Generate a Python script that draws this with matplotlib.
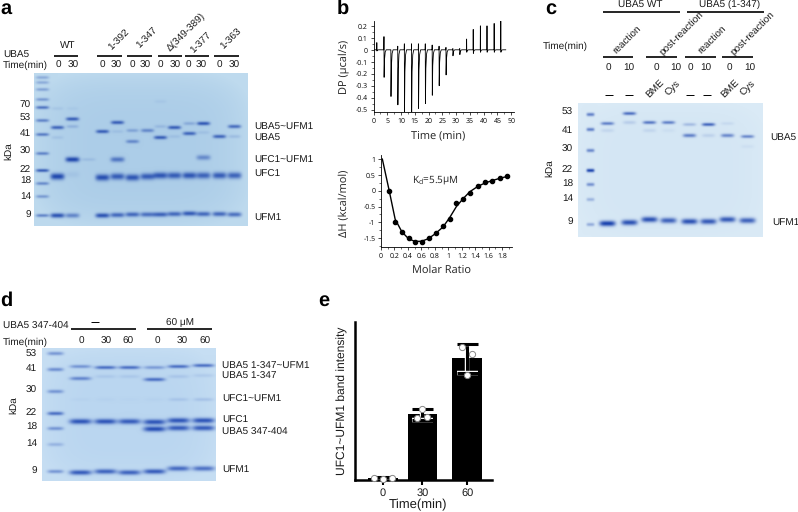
import numpy as np
import matplotlib
matplotlib.use("Agg")
from matplotlib import pyplot as plt
import matplotlib.patheffects as pe

W, H = 798, 512
plt.rcParams['font.family'] = ['Liberation Sans', 'DejaVu Sans']
plt.rcParams['mathtext.default'] = 'regular'
plt.rcParams['text.hinting'] = 'none'
plt.rcParams['text.hinting_factor'] = 1
SERIF_B = ['Open Sans', 'DejaVu Sans']  # panel b comes from the ITC software

a_lanes = [57, 72, 102, 117, 132, 147, 160, 174, 189, 203, 219, 234]
a_times = ['0', '30'] * 6
a_marker_rows = [77, 82, 89, 99, 107, 120, 134, 153, 170, 183, 196, 215]
a_marker_amts = [.3, .3, .35, .4, .65, .55, .6, .55, .8, .5, .4, .55]
a_ufm1_rows = [215, 215, 215, 214.5, 214, 214, 214, 213.5, 213, 213.5, 213.5, 214]
a_ufm1_amts = [.9, .55, .9, .75, .75, .7, .8, .75, .85, .75, .75, .7]
a_ufc1_rows = [176, 174, 177, 176, 177, 176, 175, 175, 175, 175, 175, 175]
a_ufc1_amts = [1, .08, .95, .85, .9, .85, .9, .85, .9, .8, .85, .8]
a_conj_lane = [1, 3, 9]
a_conj_rows = [159, 159, 157]
a_conj_amts = [1, .65, .5]
a_uba5_lane = [0, 1, 2, 3, 4, 5, 6, 7, 8, 9, 10, 11]
a_uba5_rows = [127, 118.5, 131, 122, 141, 130, 137, 127, 133, 123, 136, 126]
a_uba5_amts = [.75, .8, .8, .8, .5, .5, .8, .8, .75, .85, .75, .7]
a_faint_lane = [0, 1, 3, 4, 6, 7, 8, 9, 11, 0, 1, 6]
a_faint_rows = [137, 126, 131, 130, 126, 136, 123, 132, 136, 108, 108, 101]
a_faint_amts = [.1, .2, .1, .3, .15, .1, .25, .1, .15, .08, .05, .06]
a_mw = ['70', '53', '41', '30', '22', '18', '14', '9']
a_mw_y = [105, 118, 133, 151, 169, 181, 196, 215]

# ---- gel c
c_lanes = [607, 629, 649, 668, 689, 708, 727, 747]
c_times = ['0', '10', '0', '10', '0', '10', '0', '10']
c_time_x = [608, 629, 656, 676, 690, 706, 729, 750]
c_marker_rows = [114, 129, 150, 170, 184, 199, 224]
c_marker_amts = [.6, .6, .55, .95, .5, .3, .35]
c_ufm1_rows = [223, 222, 219, 220, 221, 221, 219, 220]
c_ufm1_amts = [1, .9, .9, .8, .9, .85, .85, .8]
c_top_rows = [123, 113, 122, 122, 124, 124, 123, 136]
c_top_amts = [.6, .7, .65, .6, .25, .75, .08, .55]
c_low_rows = [130, 122, 130, 130, 135, 135, 135, 146]
c_low_amts = [.1, .15, .1, .05, .6, .12, .55, .05]
c_mw = ['53', '41', '30', '22', '18', '14', '9']
c_mw_y = [112, 130, 149, 169, 184, 198, 222]

# ---- gel d
d_lanes = [80, 105, 129, 154, 178, 203]
d_times = ['0', '30', '60', '0', '30', '60']
d_time_x = [81, 106, 128, 157, 182, 205]
d_marker_rows = [353, 369, 391, 413, 428, 444, 471]
d_marker_amts = [.45, .5, .45, .7, .45, .25, .45]
d_charged_rows = [366, 367, 367, 367, 366, 365]
d_charged_amts = [.45, .7, .7, .4, .7, .7]
d_free_rows = [378, 376, 376, 379, 376, 375]
d_free_amts = [.55, .1, .1, .7, .12, .1]
d_conj_rows = [399, 399, 399, 399, 399, 399]
d_conj_amts = [.03, .03, .02, .03, .12, .15]
d_ufc1_rows = [421, 421, 421, 421.5, 420, 420]
d_ufc1_amts = [.9, .9, .85, .9, .9, .9]
d_pep_rows = [428, 428, 428, 428.5, 427.5, 427.5]
d_pep_amts = [0, 0, 0, .95, .85, .85]
d_ufm1_rows = [472, 471, 472, 471, 468, 468]
d_ufm1_amts = [.85, .8, .8, .85, .75, .7]
d_mw = ['53', '41', '30', '22', '18', '14', '9']
d_mw_y = [354, 368, 390, 412, 427, 443, 471]

# ---- panel b, raw ITC trace
itc_t = [1.2, 3.8, 6.3, 8.8, 11.2, 13.8, 16.3, 18.8, 21.3, 23.8, 26.3, 28.8, 31.3,
         33.8, 36.2, 38.8, 41.2, 43.8, 46.2]
itc_up = [.06, .11, .0, .03, .05, .05, .05, .05, .04, .03, .02, .01, .01,
          .09, .17, .20, .20, .22, .24]
itc_down = [-.01, -.23, -.39, -.46, -.52, -.52, -.49, -.45, -.38, -.30, -.21, -.05, -.04,
            -.02, -.03, -.02, -.02, -.02, -.02]
# integrated heats and fit
ratio = [.12, .21, .31, .41, .5, .61, .71, .81, .92, 1.02, 1.12, 1.22, 1.32, 1.44, 1.54, 1.65, 1.76, 1.87]
dh = [-.02, -.98, -1.3, -1.5, -1.63, -1.62, -1.5, -1.35, -1.1, -.88, -.38, -.27, -.08, .14, .27, .31, .4, .48]
fit_x = [.02, .12, .21, .31, .41, .5, .6, .7, .8, .92, 1.02, 1.12, 1.22, 1.32, 1.44, 1.54, 1.65, 1.76, 1.87]
fit_y = [1.0, .02, -.9, -1.3, -1.52, -1.6, -1.6, -1.52, -1.37, -1.15, -.85, -.5, -.25, -.03, .14, .24, .32, .39, .45]

# ---- panel e
e_labels = ['0', '30', '60']
e_pos = [0, 1, 2.137]
e_mean = [1, 41.8, 76.9]
e_low = [0, 38, 67.9]
e_high = [2, 44.7, 86.3]
e_pts_0 = [1.1, .6, 1.1]
e_pts_30 = [39, 45, 39.7]
e_pts_60 = [84, 80, 66.6]
e_offs_0 = [-.24, 0, .24]
e_offs_30 = [-.125, 0, .125]
e_offs_60 = [-.125, .125, 0]

fig = plt.figure(figsize=(W / 100, H / 100), dpi=100)
ax0 = fig.add_axes([0, 0, 1, 1])
ax0.set_axis_off()


def px_axes(l, t, r, b):
    return fig.add_axes([l / W, 1 - b / H, (r - l) / W, (b - t) / H])


def bands(stain, box, xs, rows, amts, hw, hh):
    l, t, r, b = box
    yy, xx = np.mgrid[t:b, l:r]
    for x, y, a in zip(xs, rows, amts):
        stain += a * np.exp(-((xx - x) / hw) ** 4) * np.exp(-((yy - y) / hh) ** 2)


def show_gel(stain, box, edge, centre, dark):
    l, t, r, b = box
    yy, xx = np.mgrid[t:b, l:r]
    # background is a bit lighter near the edges
    u = (xx - l) / (r - l) * 2 - 1
    v = (yy - t) / (b - t) * 2 - 1
    m = np.clip(1 - (u ** 4 + v ** 4) / 1.2, 0, 1)[..., None]
    bg = np.array(edge) * (1 - m) + np.array(centre) * m
    s = np.clip(stain, 0, 1)[..., None]
    img = (bg * (1 - s) + np.array(dark) * s) / 255
    ax0.imshow(img, extent=(l, r, b, t), aspect='auto', interpolation='bilinear', zorder=1)


# gel a
box = (34, 73, 248, 226)
st = np.zeros((box[3] - box[1], box[2] - box[0]))
ax = np.array(a_lanes)
bands(st, box, [42] * len(a_marker_rows), a_marker_rows, a_marker_amts, 6.5, 1.7)
bands(st, box, ax, a_ufm1_rows, a_ufm1_amts, 7, 2.4)
bands(st, box, ax, a_ufc1_rows, a_ufc1_amts, 7, 3.3)
bands(st, box, ax[a_conj_lane], a_conj_rows, a_conj_amts, 7, 2.6)
bands(st, box, ax[a_uba5_lane], a_uba5_rows, a_uba5_amts, 6.5, 1.9)
bands(st, box, ax[a_faint_lane], a_faint_rows, a_faint_amts, 6, 1.8)
bands(st, box, [88], [159], [.12], 7, 1.7)
show_gel(st, box, (190, 218, 238), (172, 205, 232), (35, 75, 175))

# gel c
box = (578, 103, 763, 237)
st = np.zeros((box[3] - box[1], box[2] - box[0]))
cx = np.array(c_lanes)
bands(st, box, [590] * len(c_marker_rows), c_marker_rows, c_marker_amts, 4, 1.8)
bands(st, box, cx, c_ufm1_rows, c_ufm1_amts, 8, 2.8)
bands(st, box, cx, c_top_rows, c_top_amts, 6.5, 1.7)
bands(st, box, cx, c_low_rows, c_low_amts, 6.5, 1.9)
show_gel(st, box, (218, 234, 246), (212, 230, 244), (30, 70, 175))

# gel d
box = (42, 348, 216, 481)
st = np.zeros((box[3] - box[1], box[2] - box[0]))
dx = np.array(d_lanes)
bands(st, box, [55] * len(d_marker_rows), d_marker_rows, d_marker_amts, 8, 1.9)
bands(st, box, dx, d_charged_rows, d_charged_amts, 10.5, 1.8)
bands(st, box, dx, d_free_rows, d_free_amts, 10.5, 1.9)
bands(st, box, dx, d_conj_rows, d_conj_amts, 10, 1.8)
bands(st, box, dx, d_ufc1_rows, d_ufc1_amts, 11, 2.7)
bands(st, box, dx, d_pep_rows, d_pep_amts, 11, 2.7)
bands(st, box, dx, d_ufm1_rows, d_ufm1_amts, 11, 2.5)
show_gel(st, box, (198, 222, 243), (186, 214, 240), (35, 75, 180))

ax0.set_xlim(0, W)
ax0.set_ylim(H, 0)


def txt(x, y, s, size=7.2, ha='left', rot=0, **kw):
    ax0.text(x, y, s, fontsize=size, ha=ha, va='center', rotation=rot,
             rotation_mode='anchor' if rot == 45 else 'default', color='#1a1a1a', **kw)


def rule(x0, x1, y, lw=1.2):
    ax0.plot([x0, x1], [y, y], color='black', lw=lw, solid_capstyle='butt', zorder=3)


# panel letters
for x, y, s in [(0, 9, 'a'), (337, 9, 'b'), (545, 9, 'c'), (0, 301, 'd'), (318, 301, 'e')]:
    ax0.text(x, y, s, fontsize=14.5, fontweight='bold', va='center', ha='left', color='black')

# labels a
txt(3, 54, 'UBA5')
txt(3, 65, 'Time(min)')
txt(67.5, 45, 'WT', ha='center')
for x0, x1 in [(54, 78), (97, 122), (127, 152), (158, 182), (185, 209), (214, 239)]:
    rule(x0, x1, 56)
for x, s in zip([58.7, 73, 102, 116, 132, 145, 160, 175, 188, 201, 219, 234], a_times):
    txt(x, 65.5, s, ha='center')
for x, y, s in [(119, 40, '1-392'), (147, 38, '1-347'), (186, 32, 'Δ(349-389)'),
                (201, 43, '1-377'), (231, 39, '1-363')]:
    ax0.text(x, y, s, fontsize=7.2, rotation=45, ha='center', va='center', color='#1a1a1a')
for y, s in zip(a_mw_y, a_mw):
    txt(31, y, s, ha='right')
txt(9, 151, 'kDa', ha='center', rot=90)
for y, s in [(126, 'UBA5~UFM1'), (137, 'UBA5'), (160, 'UFC1~UFM1'), (174, 'UFC1'), (217, 'UFM1')]:
    txt(254, y, s)

# labels c
txt(640, 4, 'UBA5 WT', ha='center')
txt(730, 4, 'UBA5 (1-347)', ha='center')
rule(603, 680, 12)
rule(687, 764, 12)
txt(543, 46, 'Time(min)')
for x, y, s in [(627, 40, 'reaction'), (682, 33, 'post-reaction'), (712, 40, 'reaction'),
                (753, 33, 'post-reaction')]:
    ax0.text(x, y, s, fontsize=7.2, rotation=45, ha='center', va='center', color='#1a1a1a')
for x0, x1 in [(603, 633), (646, 677), (685, 716), (722, 753)]:
    rule(x0, x1, 57)
for x, s in zip(c_time_x, c_times):
    txt(x, 68.5, s, ha='center')
for x in [609, 629, 690, 707]:
    rule(x - 4, x + 4, 95, lw=.7)
for x, s in [(655, 'BME'), (673, 'Cys'), (730, 'BME'), (748, 'Cys')]:
    ax0.text(x, 89, s, fontsize=7.2, rotation=45, ha='center', va='center', color='#1a1a1a')
for y, s in zip(c_mw_y, c_mw):
    txt(573, y, s, ha='right')
txt(550, 168, 'kDa', ha='center', rot=90)
txt(770, 137, 'UBA5')
txt(772, 222, 'UFM1')

# labels d
txt(3, 326, 'UBA5 347-404')
txt(3, 342, 'Time(min)')
rule(71, 136, 329)
rule(147, 212, 329)
rule(91, 99, 322, lw=.7)
txt(180, 322, '60 μM', ha='center')
for x, s in zip(d_time_x, d_times):
    txt(x, 341, s, ha='center')
for y, s in zip(d_mw_y, d_mw):
    txt(37, y, s, ha='right')
txt(14, 405, 'kDa', ha='center', rot=90)
for y, s in [(366, 'UBA5 1-347~UFM1'), (376, 'UBA5 1-347'), (399, 'UFC1~UFM1'),
             (420, 'UFC1'), (432, 'UBA5 347-404'), (469, 'UFM1')]:
    txt(222, y, s)

# panel b, top
b1 = px_axes(373.5, 20.5, 514, 112)
tr_x, tr_y = [0], [0]
for t, up, dn in zip(itc_t, itc_up, itc_down):
    tr_x += [t - .05, t, t + .05, t + .2, t + .45, t + .8]
    tr_y += [0, up, dn, dn * .35, dn * .08, 0]
tr_x.append(48)
tr_y.append(0)
b1.plot(tr_x, tr_y, color='black', lw=.6)
b1.set_xlim(0, 51)
b1.set_ylim(-.52, .245)
b1.set_xticks(range(0, 51, 5))
b1.set_xticks(np.arange(0, 51, 2.5), minor=True)
b1.set_yticks([-.5, -.4, -.3, -.2, -.1, 0, .1, .2])
b1.set_yticklabels(['-0.5', '-0.4', '-0.3', '-0.2', '-0.1', '0', '0.1', '0.2'])
b1.set_yticks(np.arange(-.5, .25, .05), minor=True)

# panel b, bottom
b2 = px_axes(381, 155, 512.3, 247)
b2.plot(fit_x, fit_y, color='black', lw=1)
b2.plot(ratio, dh, 'o', color='black', ms=3)
b2.set_xlim(0, 1.95)
b2.set_ylim(-1.78, 1.13)
b2.set_xticks(np.arange(0, 1.9, .2))
b2.set_xticklabels(['0', '0.2', '0.4', '0.6', '0.8', '1', '1.2', '1.4', '1.6', '1.8'])
b2.set_xticks(np.arange(0, 1.95, .1), minor=True)
b2.set_yticks([-1.5, -1, -.5, 0, .5, 1])
b2.set_yticklabels(['-1.5', '-1', '-0.5', '0', '0.5', '1'])
b2.set_yticks(np.arange(-1.75, 1.1, .25), minor=True)

for a in (b1, b2):
    a.patch.set_alpha(0)
    for side in ('top', 'right'):
        a.spines[side].set_visible(False)
    for side in ('left', 'bottom'):
        a.spines[side].set_linewidth(.6)
    a.tick_params(which='major', length=2.5, width=.5, labelsize=5.2, pad=1.5)
    a.tick_params(which='minor', length=1.3, width=.4)
    for lab in a.get_xticklabels() + a.get_yticklabels():
        lab.set_family(SERIF_B)

ax0.text(344, 67, 'DP (µcal/s)', fontsize=8, rotation=90, ha='center', va='center', family=SERIF_B, color='#222222')
ax0.text(438, 135, 'Time (min)', fontsize=8, ha='center', va='center', family=SERIF_B, color='#222222')
ax0.text(344, 203, 'ΔH (kcal/mol)', fontsize=8, rotation=90, ha='center', va='center', family=SERIF_B, color='#222222')
ax0.text(441, 270, 'Molar Ratio', fontsize=8, ha='center', va='center', family=SERIF_B, color='#222222')
ax0.text(411.5, 180, 'K$_d$=5.5µM', fontsize=7.5, ha='left', va='center', family=SERIF_B, color='#222222')

# panel e
e = px_axes(354.5, 322, 492, 480)
e.bar(e_pos, e_mean, width=.75, color='black')
err = e.errorbar(e_pos, e_mean,
                 yerr=[np.array(e_mean) - np.array(e_low), np.array(e_high) - np.array(e_mean)],
                 fmt='none', ecolor='black', elinewidth=2.2, capsize=7.5, capthick=2.2, zorder=3)
halo = [pe.withStroke(linewidth=3.2, foreground='white')]
for art in list(err[1]) + list(err[2]):
    art.set_path_effects(halo)
for p, vals, offs in zip(e_pos, [e_pts_0, e_pts_30, e_pts_60], [e_offs_0, e_offs_30, e_offs_60]):
    e.scatter(p + np.array(offs), vals, s=20, facecolor='white',
              edgecolor='#888888', linewidth=.7, zorder=4, clip_on=False)
e.set_xlim(-.725, 2.77)
e.set_ylim(0, 100)
e.set_xticks(e_pos)
e.set_xticklabels(e_labels)
e.set_yticks([])
for side in ('top', 'right'):
    e.spines[side].set_visible(False)
for side in ('left', 'bottom'):
    e.spines[side].set_linewidth(1.8)
e.tick_params(axis='x', length=3.5, width=1.5, labelsize=8, pad=2, labelcolor='#1a1a1a')
ax0.text(342, 401, 'UFC1~UFM1 band intensity', fontsize=8.9, rotation=90, ha='center', va='center', color='#1a1a1a')
ax0.text(418, 505, 'Time(min)', fontsize=9, ha='center', va='center', color='#1a1a1a')

fig.savefig('out.png', dpi=100)
